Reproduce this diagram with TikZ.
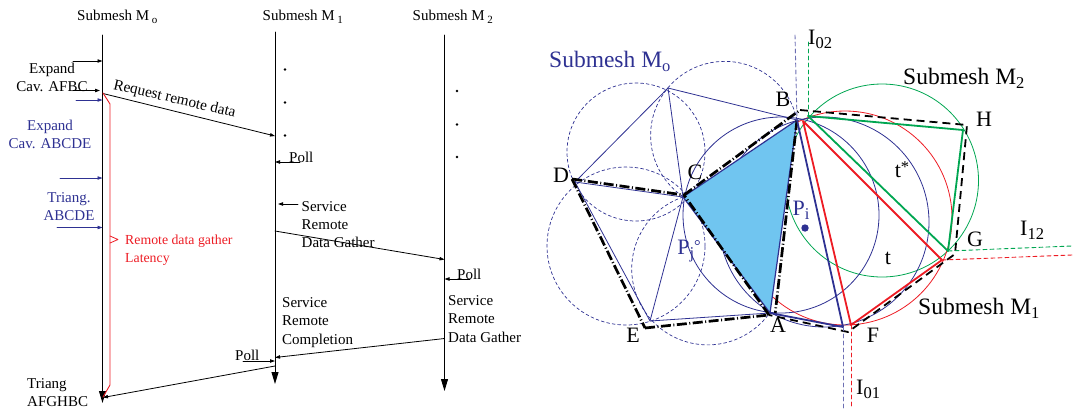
\documentclass[tikz,border=0pt]{standalone}
\usepackage{fontspec}
\setmainfont{Liberation Serif}
\usetikzlibrary{arrows.meta}
\definecolor{meshblue}{RGB}{46,49,146}
\definecolor{meshred}{RGB}{237,28,36}
\definecolor{meshgreen}{RGB}{0,166,81}
\definecolor{meshfill}{RGB}{112,197,240}
\newcommand{\lowered}[3]{\raisebox{-#1pt}{\fontsize{#2}{#2}\selectfont #3}}
\tikzset{
	lab/.style={inner sep=0pt,align=left,font=\fontsize{15}{18.2}\selectfont},
	bluelab/.style={lab,align=center,text=meshblue},
	geolab/.style={inner sep=0pt,font=\fontsize{22}{24}\selectfont},
	meshtitle/.style={inner sep=0pt,anchor=west,font=\fontsize{23.5}{24}\selectfont},
	msg/.style={line width=0.8pt,->},
	lifeline/.style={line width=0.9pt,-{Stealth[length=12pt,width=7pt,inset=0pt]}},
	thinmesh/.style={meshblue,line width=0.8pt},
	emptycircle/.style={meshblue,line width=0.7pt,dash pattern=on 3pt off 2.6pt},
	iface/.style={line width=0.9pt,dash pattern=on 4pt off 3pt},
	dashdotbound/.style={line width=2.7pt,line cap=butt,dash pattern=on 10pt off 2.5pt on 1pt off 2.5pt},
	dashbound/.style={line width=1.8pt,line cap=butt,dash pattern=on 8pt off 5pt},
}
\begin{document}
\begin{tikzpicture}[x=1pt,y=-1pt,line cap=round,line join=round,>={Stealth[length=5pt,width=3.4pt,inset=0pt]}]
	\useasboundingbox (0,0) rectangle (1075,408);
	\node[lab,anchor=west] (title0) at (77,17) {Submesh M\,\lowered{3.5}{11}{o}};
	\node[lab,anchor=west] (title1) at (262.5,17) {Submesh M\,\lowered{3.5}{11}{1}};
	\node[lab,anchor=west] (title2) at (412.5,17) {Submesh M\,\lowered{3.5}{11}{2}};
	\coordinate (m0top) at (102.5,35);
	\coordinate (m0end) at (102.5,403);
	\coordinate (m1top) at (275,32);
	\coordinate (m1end) at (275,384);
	\coordinate (m2top) at (444.5,35);
	\coordinate (m2end) at (444.5,391);
	\draw[lifeline] (m0top) -- (m0end);
	\draw[lifeline] (m1top) -- (m1end);
	\draw[lifeline] (m2top) -- (m2end);

	\node[lab,align=center] (expandafbc) at (52,77.5) {Expand\\Cav. AFBC};
	\node[bluelab] (expandabcde) at (50,134.5) {Expand\\Cav. ABCDE};
	\node[bluelab] (triangabcde) at (69,206.5) {Triang.\\ABCDE};
	\node[lab,anchor=west] (triangafg) at (27,392.5) {Triang\\AFGHBC};
	\node[lab,anchor=west,text=meshred,font=\fontsize{13.8}{18.2}\selectfont] (latency) at (125,250) {Remote data gather\\Latency};
	\node[lab,rotate=-13,font=\fontsize{15.3}{16}\selectfont] (request) at (174.5,99.5) {Request remote data};
	\node[lab,anchor=west] (poll1) at (289,157) {Poll};
	\node[lab,anchor=west] (service1) at (301.5,224.5) {Service\\Remote\\Data Gather};
	\node[lab,anchor=west] (poll2) at (457,274) {Poll};
	\node[lab,anchor=west] (service2) at (448,319) {Service\\Remote\\Data Gather};
	\node[lab,anchor=west] (complete) at (282,322.5) {Service\\Remote\\Completion};
	\node[lab,anchor=west] (poll3) at (235,355) {Poll};

	\coordinate (a0) at (73,61); \coordinate (a0e) at (102.5,61);
	\coordinate (a1) at (73,90.5); \coordinate (a1e) at (100,90.5);
	\coordinate (b0) at (76,100); \coordinate (b0e) at (102.5,100);
	\coordinate (b1) at (60,178); \coordinate (b1e) at (102.5,178);
	\coordinate (b2) at (57,227.5); \coordinate (b2e) at (102.5,227.5);
	\draw[msg] (a0) -- (a0e);
	\draw[msg] (a1) -- (a1e);
	\draw[msg,meshblue] (b0) -- (b0e);
	\draw[msg,meshblue] (b1) -- (b1e);
	\draw[msg,meshblue] (b2) -- (b2e);

	\coordinate (req0) at (103,93.5); \coordinate (req1) at (275,136);
	\coordinate (pollb) at (300,162); \coordinate (polle) at (275,162);
	\coordinate (srvb) at (298,204); \coordinate (srve) at (278,204);
	\coordinate (gat1) at (275,231); \coordinate (gat2) at (444.5,259.5);
	\coordinate (pollc) at (470,279); \coordinate (polld) at (444.5,279);
	\coordinate (ret2) at (444.5,338.5); \coordinate (ret1) at (275,357.5);
	\coordinate (pollf) at (243,361); \coordinate (pollg) at (275,361);
	\coordinate (fin1) at (275,366); \coordinate (fin0) at (103,397.5);
	\draw[msg] (req0) -- (req1);
	\draw[msg] (pollb) -- (polle);
	\draw[msg] (srvb) -- (srve);
	\draw[msg] (gat1) -- (gat2);
	\draw[msg] (pollc) -- (polld);
	\draw[msg] (ret2) -- (ret1);
	\draw[msg] (pollf) -- (pollg);
	\draw[msg] (fin1) -- (fin0);

	\coordinate (lat0) at (103,93);
	\coordinate (lat1) at (110,104);
	\coordinate (lat2) at (110,385);
	\coordinate (lat3) at (103,397);
	\draw[meshred,line width=0.9pt] (lat0) -- (lat1) -- (lat2) -- (lat3);
	\draw[meshred,line width=0.8pt] (110,236) -- (118,239.5) -- (110,243);
	\foreach \y in {69.5,102.5,135.5} \fill (285,\y) circle[radius=1.3pt];
	\foreach \y in {91,124.5,157} \fill (457,\y) circle[radius=1.3pt];

	\coordinate (A) at (770,313);
	\coordinate (B) at (797,120);
	\coordinate (C) at (683,197);
	\coordinate (D) at (575,182);
	\coordinate (E) at (650,321);
	\coordinate (T) at (668,88);
	\coordinate (F) at (843,327);
	\coordinate (Br) at (803,121);
	\coordinate (Fr) at (851,325);
	\coordinate (Gr) at (942,260);
	\coordinate (Bg) at (808,116);
	\coordinate (Hg) at (963,130);
	\coordinate (Gg) at (948,251);

	\draw[emptycircle] (636,152) circle[radius=69pt];
	\draw[emptycircle] (626,246) circle[radius=79pt];
	\draw[emptycircle] (B) arc[start angle=12,end angle=236,radius=74pt];
	\draw[emptycircle] (C) arc[start angle=109,end angle=325,radius=76pt];
	\draw[meshgreen,line width=0.8pt] (882,180.5) circle[radius=96.5pt];
	\draw[meshred,line width=0.8pt] (845,218) circle[radius=107pt];
	\draw[thinmesh] (781,215) circle[radius=98pt];
	\draw[thinmesh] (824,222) circle[radius=105pt];

	\draw[thinmesh] (D) -- (T) -- (B);
	\draw[thinmesh] (T) -- (C) -- (D) -- (E) -- (C);
	\draw[thinmesh] (E) -- (A);
	\fill[meshfill] (A) -- (B) -- (C) -- cycle;
	\draw[meshblue,line width=1.2pt] (A) -- (B) -- (C) -- cycle;

	\coordinate (Bk) at (800,110);
	\coordinate (Hk) at (967,125);
	\coordinate (Gk) at (955,254);
	\coordinate (Fk) at (848,332);
	\coordinate (Ak) at (769,315);
	\coordinate (Ek) at (645,328);
	\coordinate (Dk) at (572,179);
	\coordinate (Ck) at (684,195);
	\draw[dashdotbound] (Dk) -- (Ck);
	\draw[dashdotbound] (Ck) -- (Bk);
	\draw[dashdotbound] (Dk) -- (Ek);
	\draw[dashdotbound] (Ek) -- (Ak);
	\draw[dashdotbound] (Ak) -- (Ck);
	\draw[dashdotbound] (B) -- (775,315);
	\draw[dashbound] (Bk) -- (Hk) -- (Gk) -- (Fk) -- (Ak);

	\draw[meshblue,line width=1.8pt] (B) -- (F) -- (A);
	\draw[meshred,line width=1.8pt] (Br) -- (Fr) -- (Gr) -- cycle;
	\draw[meshgreen,line width=1.8pt] (Bg) -- (Hg) -- (Gg) -- cycle;

	\coordinate (i02b) at (795,35);
	\coordinate (i02g) at (808,42);
	\coordinate (i01b) at (843,408);
	\coordinate (i01r) at (851,408);
	\coordinate (i12g) at (1072,246);
	\coordinate (i12r) at (1072,255);
	\draw[iface,meshblue!70] (i02b) -- (B);
	\draw[iface,meshgreen] (i02g) -- (Bg);
	\draw[iface,meshblue!70] (F) -- (i01b);
	\draw[iface,meshred] (Fr) -- (i01r);
	\draw[iface,meshgreen] (Gg) -- (i12g);
	\draw[iface,meshred] (Gr) -- (i12r);

	\node[meshtitle,text=meshblue] (titleo) at (549,61) {Submesh M\lowered{4}{16.5}{o}};
	\node[meshtitle] (titlem2) at (903,78) {Submesh M\lowered{4}{16.5}{2}};
	\node[meshtitle] (titlem1) at (918,308) {Submesh M\lowered{4}{16.5}{1}};
	\node[geolab] (labA) at (778,325) {A};
	\node[geolab] (labB) at (783,99) {B};
	\node[geolab] (labC) at (695,172) {C};
	\node[geolab] (labD) at (561,175) {D};
	\node[geolab] (labE) at (633,335) {E};
	\node[geolab] (labF) at (873,335) {F};
	\node[geolab] (labG) at (975,239) {G};
	\node[geolab] (labH) at (984,119) {H};
	\node[geolab,anchor=west] (labi02) at (808,39) {I\lowered{4}{16.5}{02}};
	\node[geolab,anchor=west] (labi12) at (1020,230) {I\lowered{4}{16.5}{12}};
	\node[geolab,anchor=west] (labi01) at (856,389) {I\lowered{4}{16.5}{01}};
	\node[geolab] (labtstar) at (902,170) {t\raisebox{5pt}{\fontsize{16.5}{16.5}\selectfont *}};
	\node[geolab] (labt) at (888,258) {t};
	\node[geolab,text=meshblue] (labpi) at (801,210) {P\lowered{4}{16.5}{i}};
	\node[geolab,text=meshblue] (labpj) at (689,251) {P\lowered{4}{16.5}{j}\raisebox{3pt}{\fontsize{16.5}{16.5}\selectfont °}};
	\fill[meshblue] (805,228) circle[radius=3.7pt];
\end{tikzpicture}
\end{document}
